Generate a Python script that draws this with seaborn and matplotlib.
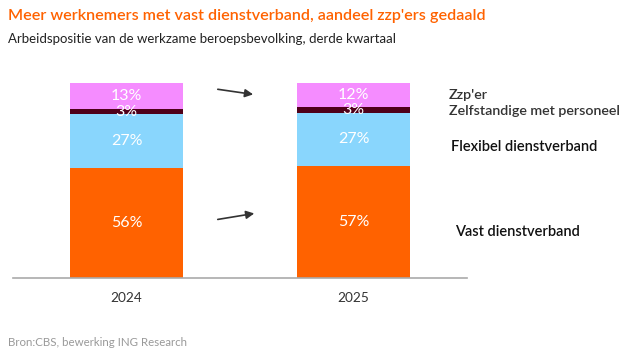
import matplotlib.pyplot as plt
import seaborn as sns
import pandas as pd

years = ['2024', '2025']
vast = [56, 57]
flexibel = [27, 27]
zelfstandig = [3, 3]
zzp = [13, 12]

segments = ['Vast dienstverband', 'Flexibel dienstverband', 'Zelfstandige met personeel', "Zzp'er"]
colors = ['#FF6200', '#89D6FD', '#4F0019', '#F58CFF']

sns.set_style('white')
plt.rcParams['font.family'] = ['Lato', 'DejaVu Sans']

df = pd.DataFrame({'jaar': years, 'vast': vast, 'flex': flexibel,
                   'zelf': zelfstandig, 'zzp': zzp})
cols = ['vast', 'flex', 'zelf', 'zzp']
cum = df[cols].cumsum(axis=1)

fig = plt.figure(figsize=(6.27, 3.54), dpi=100)
ax = fig.add_axes([13 / 627, 1 - 278 / 354, 454 / 627, 197 / 354])

# stacked bars: draw cumulative totals from the top down
for col, c in reversed(list(zip(cols, colors))):
    sns.barplot(x=df['jaar'], y=cum[col], color=c, width=0.5, ax=ax,
                saturation=1, linewidth=0)

for i in range(len(years)):
    bottom = 0
    for col in cols:
        v = df[col][i]
        ax.text(i, bottom + v / 2, f'{v}%', ha='center', va='center',
                color='white', fontsize=11.5)
        bottom += v

ax.set_xlim(-0.5, 1.5)
ax.set_ylim(0, 100)
ax.set_xlabel('')
ax.set_ylabel('')
ax.set_yticks([])
ax.tick_params(axis='x', length=0, labelsize=9.8, pad=10, colors='#333333')
for s in ['top', 'right', 'left']:
    ax.spines[s].set_visible(False)
ax.spines['bottom'].set_color('#aaaaaa')
ax.spines['bottom'].set_linewidth(1.2)

ax.annotate('', xy=(0.57, 93), xytext=(0.39, 96),
            arrowprops=dict(arrowstyle='-|>', color='#333333', lw=1.2, mutation_scale=12))
ax.annotate('', xy=(0.575, 33), xytext=(0.39, 29.5),
            arrowprops=dict(arrowstyle='-|>', color='#333333', lw=1.2, mutation_scale=12))

def px(x, y):
    return x / 627, 1 - y / 354

fig.text(*px(449, 95), "Zzp'er", fontsize=10.3, color='#333333', va='center', weight='semibold')
fig.text(*px(449, 111), 'Zelfstandige met personeel', fontsize=10.3, color='#333333', va='center', weight='semibold')
fig.text(*px(451, 147), 'Flexibel dienstverband', fontsize=10.5, color='#111111', va='center', weight='semibold')
fig.text(*px(455, 232), 'Vast dienstverband', fontsize=10.5, color='#111111', va='center', weight='semibold')

fig.text(*px(8, 16), "Meer werknemers met vast dienstverband, aandeel zzp'ers gedaald",
         fontsize=11.6, color='#FF6200', va='center', weight='semibold')
fig.text(*px(8, 39), 'Arbeidspositie van de werkzame beroepsbevolking, derde kwartaal',
         fontsize=9.5, color='#222222', va='center')
fig.text(*px(8, 342), 'Bron:CBS, bewerking ING Research', fontsize=8.3,
         color='#999999', va='center')

fig.savefig('out.png', dpi=100)
